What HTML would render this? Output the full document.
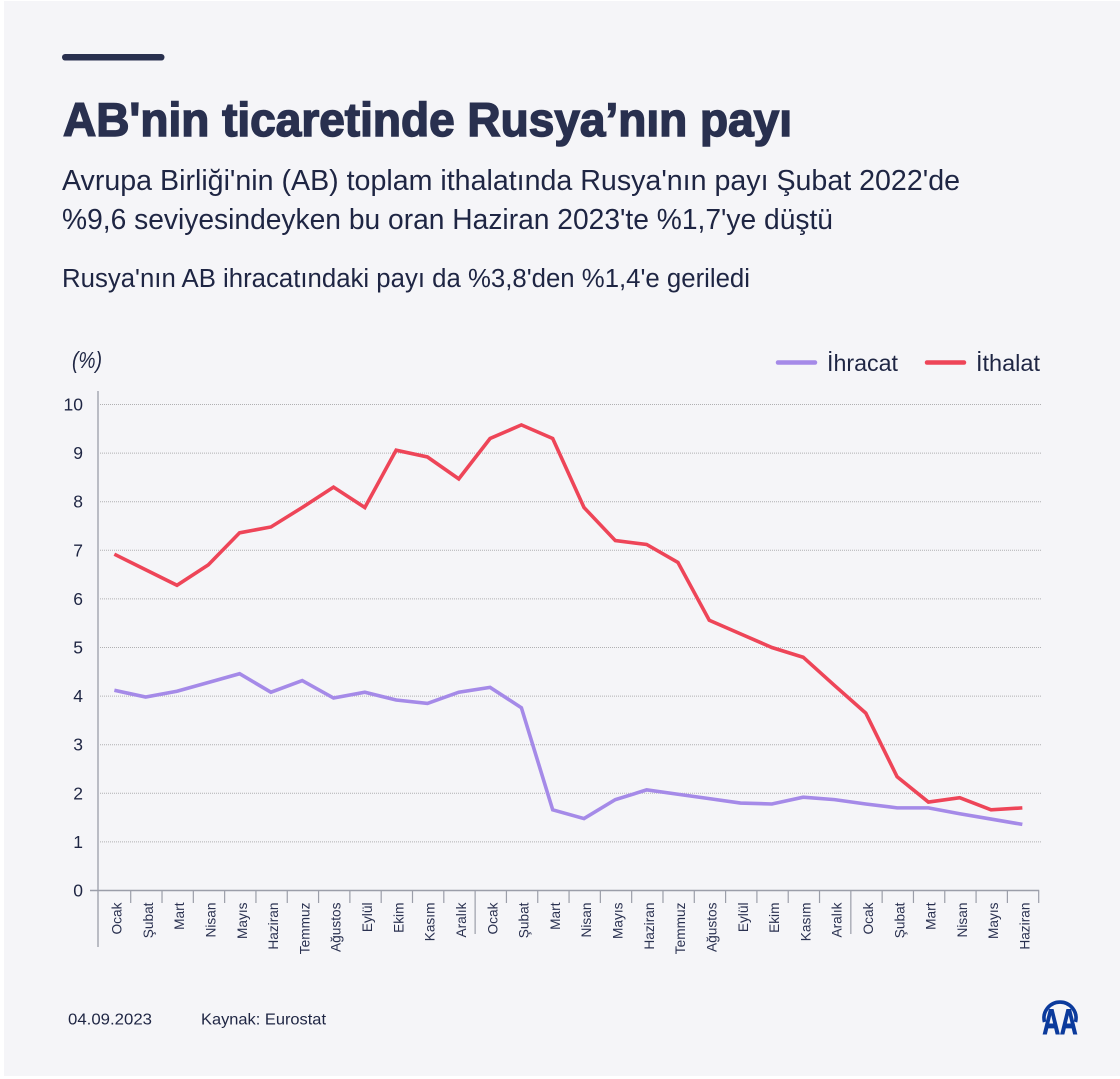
<!DOCTYPE html>
<html lang="tr">
<head>
<meta charset="utf-8">
<title>AB'nin ticaretinde Rusya'nın payı</title>
<style>
html,body{margin:0;padding:0;background:#fff;width:1120px;height:1079px;overflow:hidden}
svg{display:block;position:absolute;left:0;top:0}
text{font-family:"Liberation Sans","DejaVu Sans",sans-serif;}
</style>
</head>
<body>
<svg id="chart" xmlns="http://www.w3.org/2000/svg" width="1120" height="1079" viewBox="0 0 1120 1079">
  <rect x="4" y="1" width="1116" height="1075" fill="#f5f5f8"/>
  <rect x="62" y="54" width="102.500" height="6.500" rx="3.200" fill="#29304f"/>
  <text x="63" y="136" font-size="47" font-weight="700" fill="#29304f" stroke="#29304f" stroke-width="1.500" textLength="729" lengthAdjust="spacingAndGlyphs">AB'nin ticaretinde Rusya’nın payı</text>
  <text x="62" y="190" font-size="28.500" fill="#1e2543" textLength="898" lengthAdjust="spacingAndGlyphs">Avrupa Birliği'nin (AB) toplam ithalatında Rusya'nın payı Şubat 2022'de</text>
  <text x="62" y="229" font-size="28.500" fill="#1e2543" textLength="771" lengthAdjust="spacingAndGlyphs">%9,6 seviyesindeyken bu oran Haziran 2023'te %1,7'ye düştü</text>
  <text x="62" y="287" font-size="25.500" fill="#1e2543" textLength="688" lengthAdjust="spacingAndGlyphs">Rusya'nın AB ihracatındaki payı da %3,8'den %1,4'e geriledi</text>
  <text x="72" y="368" font-size="23" font-style="italic" fill="#1e2543" textLength="30" lengthAdjust="spacingAndGlyphs">(%)</text>

  <g>
    <line x1="778" y1="362.500" x2="815" y2="362.500" stroke="#a58ae8" stroke-width="4.500" stroke-linecap="round"/>
    <text x="827" y="371" font-size="23" fill="#1e2543" textLength="71" lengthAdjust="spacingAndGlyphs">İhracat</text>
    <line x1="927" y1="362.500" x2="964" y2="362.500" stroke="#ee4558" stroke-width="4.500" stroke-linecap="round"/>
    <text x="976" y="371" font-size="23" fill="#1e2543" textLength="64" lengthAdjust="spacingAndGlyphs">İthalat</text>
  </g>

  <g id="grid"></g>
  <g id="axes"></g>
  <g id="series"></g>

  <text x="68" y="1024.500" font-size="16" fill="#1e2543" textLength="84" lengthAdjust="spacingAndGlyphs">04.09.2023</text>
  <text x="201" y="1024.500" font-size="16" fill="#1e2543" textLength="125" lengthAdjust="spacingAndGlyphs">Kaynak: Eurostat</text>

  <g>
    <path d="M1044.500 1022 A16 16 0 1 1 1075.500 1022" fill="none" stroke="#0b3a9c" stroke-width="3.600"/>
    <text x="1042.500" y="1034" font-size="35" font-weight="700" fill="#0b3a9c" stroke="#0b3a9c" stroke-width="1" textLength="35" lengthAdjust="spacingAndGlyphs">AA</text>
  </g>
</svg>
<script>
const months = ["Ocak","Şubat","Mart","Nisan","Mayıs","Haziran","Temmuz","Ağustos","Eylül","Ekim","Kasım","Aralık","Ocak","Şubat","Mart","Nisan","Mayıs","Haziran","Temmuz","Ağustos","Eylül","Ekim","Kasım","Aralık","Ocak","Şubat","Mart","Nisan","Mayıs","Haziran"];
const yTicks = [0,1,2,3,4,5,6,7,8,9,10];
const exportShare = [4.12,3.98,4.10,4.28,4.46,4.08,4.32,3.96,4.08,3.92,3.85,4.08,4.18,3.76,1.66,1.48,1.87,2.07,1.98,1.89,1.80,1.78,1.92,1.87,1.78,1.70,1.70,1.58,1.47,1.36];
const importShare = [6.92,6.60,6.28,6.70,7.36,7.48,7.88,8.30,7.88,9.06,8.92,8.47,9.30,9.58,9.30,7.88,7.20,7.12,6.75,5.56,5.28,5.00,4.80,4.22,3.65,2.34,1.82,1.91,1.66,1.70];
const yearStarts = [12,24];

const NS = "http://www.w3.org/2000/svg";
const axisX = 98, bandLeft = 99.4, bandRight = 1038.7, y0 = 890.5, y10 = 404.5;
const bandW = (bandRight - bandLeft) / months.length;
function xScale(i){ return bandLeft + bandW * (i + 0.5) - 0.7; }
function xEdge(i){ return bandLeft + bandW * i; }
function yScale(v){ return y0 - (v / 10) * (y0 - y10); }
function mk(tag, attrs, parent, txt){
  const el = document.createElementNS(NS, tag);
  for (const k in attrs) el.setAttribute(k, attrs[k]);
  if (txt !== undefined) el.textContent = txt;
  parent.appendChild(el);
  return el;
}
const gridG = document.getElementById('grid');
const axesG = document.getElementById('axes');
const seriesG = document.getElementById('series');
const inkColor = '#1e2543', axisColor = '#9b9ea9';

yTicks.forEach(function(t){
  if (t > 0) {
    const g = mk('line', {x1: 100, x2: 1041, y1: yScale(t), y2: yScale(t), stroke: '#b0b0b2', 'stroke-width': 1, 'stroke-dasharray': '1 1'}, gridG);
    
    
  }
  const lab = mk('text', {x: 83, y: yScale(t) + 6, 'text-anchor': 'end', 'font-size': 17.5, fill: inkColor}, axesG, String(t));
  
  
});

const yAxis = mk('line', {x1: axisX, x2: axisX, y1: 391, y2: 947, stroke: axisColor, 'stroke-width': 1.3}, axesG);


const xAxis = mk('line', {x1: 90, x2: bandRight + 0.5, y1: y0, y2: y0, stroke: axisColor, 'stroke-width': 1.5}, axesG);



for (let i = 1; i <= months.length; i++) {
  const isYear = yearStarts.indexOf(i) >= 0;
  const tick = mk('line', {x1: xEdge(i), x2: xEdge(i), y1: y0, y2: isYear ? 934 : 903, stroke: axisColor, 'stroke-width': 1.2}, axesG);
  
  
}
months.forEach(function(m, i){
  const px = xScale(i) + 7.2, py = 902.5;
  const lab = mk('text', {x: px, y: py, transform: 'rotate(-90 ' + px + ' ' + py + ')', 'text-anchor': 'end', 'font-size': 13.7, fill: '#2a3150'}, axesG, m);
  
  
});

function linePath(values){
  return values.map(function(v, i){ return (i ? 'L' : 'M') + xScale(i).toFixed(2) + ' ' + yScale(v).toFixed(2); }).join(' ');
}
const expLine = mk('path', {d: linePath(exportShare), fill: 'none', stroke: '#a58ae8', 'stroke-width': 3.6, 'stroke-linejoin': 'miter'}, seriesG);


const impLine = mk('path', {d: linePath(importShare), fill: 'none', stroke: '#ee4558', 'stroke-width': 3.6, 'stroke-linejoin': 'miter'}, seriesG);


</script>
</body>
</html>
